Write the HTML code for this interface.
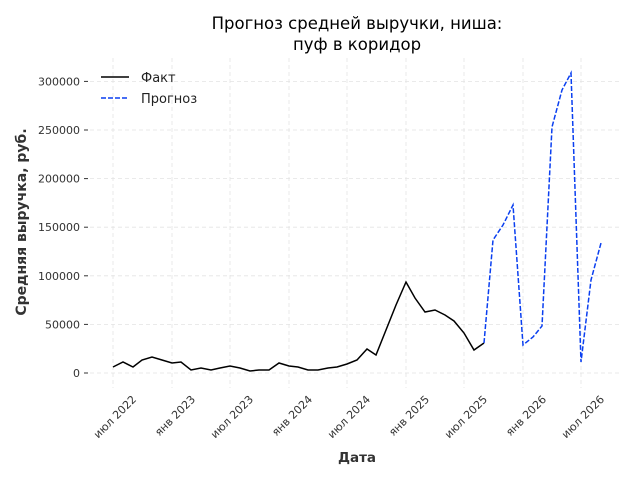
<!DOCTYPE html>
<html><head><meta charset="utf-8"><style>
body{margin:0;background:#fff;}
svg{display:block;font-family:"DejaVu Sans","Liberation Sans",sans-serif;}
</style></head><body>
<svg width="640" height="480" viewBox="0 0 640 480" xmlns="http://www.w3.org/2000/svg">
<rect width="640" height="480" fill="#fff"/>
<g stroke="#e3e3e3" stroke-width="0.8" stroke-dasharray="4,3">
<line x1="90" x2="622" y1="373" y2="373"/>
<line x1="90" x2="622" y1="324.4" y2="324.4"/>
<line x1="90" x2="622" y1="275.8" y2="275.8"/>
<line x1="90" x2="622" y1="227.2" y2="227.2"/>
<line x1="90" x2="622" y1="178.6" y2="178.6"/>
<line x1="90" x2="622" y1="130" y2="130"/>
<line x1="90" x2="622" y1="81.4" y2="81.4"/>
<line y1="58" y2="388" x1="113" x2="113"/>
<line y1="58" y2="388" x1="172" x2="172"/>
<line y1="58" y2="388" x1="230" x2="230"/>
<line y1="58" y2="388" x1="289" x2="289"/>
<line y1="58" y2="388" x1="347" x2="347"/>
<line y1="58" y2="388" x1="406" x2="406"/>
<line y1="58" y2="388" x1="464" x2="464"/>
<line y1="58" y2="388" x1="523" x2="523"/>
<line y1="58" y2="388" x1="581" x2="581"/>
</g>
<g stroke="#333" stroke-width="1">
<line x1="84" x2="88" y1="373" y2="373"/><line x1="84" x2="88" y1="324.4" y2="324.4"/><line x1="84" x2="88" y1="275.8" y2="275.8"/><line x1="84" x2="88" y1="227.2" y2="227.2"/><line x1="84" x2="88" y1="178.6" y2="178.6"/><line x1="84" x2="88" y1="130" y2="130"/><line x1="84" x2="88" y1="81.4" y2="81.4"/>
</g>
<g font-size="11" fill="#333" text-anchor="end">
<text x="80" y="377">0</text><text x="80" y="328.4">50000</text><text x="80" y="279.8">100000</text><text x="80" y="231.2">150000</text><text x="80" y="182.6">200000</text><text x="80" y="134">250000</text><text x="80" y="85.4">300000</text>
</g>
<g font-size="11" fill="#333" text-anchor="end">
<text transform="translate(137,400) rotate(-45)">июл 2022</text>
<text transform="translate(196,400) rotate(-45)">янв 2023</text>
<text transform="translate(254,400) rotate(-45)">июл 2023</text>
<text transform="translate(313,400) rotate(-45)">янв 2024</text>
<text transform="translate(371,400) rotate(-45)">июл 2024</text>
<text transform="translate(430,400) rotate(-45)">янв 2025</text>
<text transform="translate(488,400) rotate(-45)">июл 2025</text>
<text transform="translate(547,400) rotate(-45)">янв 2026</text>
<text transform="translate(605,400) rotate(-45)">июл 2026</text>
</g>
<polyline fill="none" stroke="#000" stroke-width="1.5" points="113,367 123,362 133,367 142,360 152,357 162,360 172,363 181,362 191,370 201,368 211,370 220,368 230,366 240,368 250,371 259,370 269,370 279,363 289,366 298,367 308,370 318,370 328,368 337,367 347,364 357,360 367,349 376,355 386,330 396,305 406,282 415,298 425,312 435,310 445,315 454,321 464,333 474,350 484,343"/>
<polyline fill="none" stroke="#0a3ff0" stroke-width="1.5" stroke-dasharray="5,2" points="484,343 493,240 503,225 513,205 523,345 533,337 542,326 552,127 562,90 571,73 581,362 591,280 601,243"/>
<line x1="101" x2="129" y1="77" y2="77" stroke="#000" stroke-width="1.5"/>
<line x1="101" x2="129" y1="98" y2="98" stroke="#0a3ff0" stroke-width="1.5" stroke-dasharray="5,2"/>
<text x="141" y="82" font-size="13" fill="#222">Факт</text>
<text x="141" y="103" font-size="13" fill="#222">Прогноз</text>
<text x="357" y="29" font-size="16.5" text-anchor="middle" fill="#000">Прогноз средней выручки, ниша:</text>
<text x="357" y="50" font-size="16.5" text-anchor="middle" fill="#000">пуф в коридор</text>
<text x="357" y="462" font-size="13.5" font-weight="bold" text-anchor="middle" fill="#333">Дата</text>
<text transform="translate(26,222) rotate(-90)" font-size="14" font-weight="bold" text-anchor="middle" fill="#333">Средняя выручка, руб.</text>
</svg>
</body></html>
